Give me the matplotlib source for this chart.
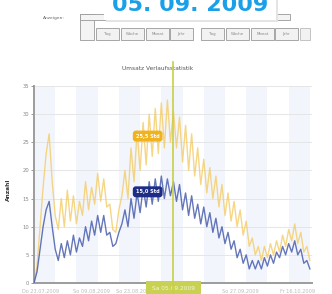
import matplotlib
matplotlib.use('Agg')
import matplotlib.pyplot as plt
from matplotlib.patches import Rectangle
from matplotlib.lines import Line2D
from matplotlib.transforms import blended_transform_factory

# daily values
yellow = [0, 3, 10, 17, 23, 26.5, 18, 12, 9.5, 15, 10, 16.5, 11, 15.5, 10.5,
          14.5, 12, 18, 13, 17, 14, 19.5, 14.5, 18.5, 13.5, 14, 9.5, 9, 13,
          15.5, 20, 15, 24, 18, 27, 20, 28.5, 21, 30, 22.5, 31, 23, 32, 24,
          32.5, 25, 30.5, 24, 29.5, 21.5, 28, 20, 26.5, 19, 24, 17.5, 22, 16,
          20.5, 15, 19, 13.5, 17.5, 12, 16, 11, 14.5, 10, 13, 8.5, 11, 6.5, 8,
          5, 6.5, 4, 6.5, 4.5, 7, 5, 7.5, 5.5, 8.5, 6.5, 9.5, 7.5, 10.5, 7, 9,
          5.5, 6.5, 4]
blue = [0, 2, 6, 10, 13, 14.5, 10, 6, 4, 7, 4.5, 7.5, 5, 8.5, 5.5, 8, 6.5, 10,
        7.5, 11, 8.5, 12, 9, 12, 8.5, 9, 6.5, 7, 9, 10.5, 13, 10, 15, 11.5, 16,
        12.5, 17, 13.5, 18, 14, 18.5, 14.5, 19, 15, 18.5, 15.5, 18, 14.5, 17.5,
        13, 16, 12, 15.5, 11.5, 14, 10.5, 13.5, 10, 12.5, 9, 11.5, 8, 10, 7, 9,
        6, 7.5, 4.5, 6, 3.5, 5, 2.5, 4, 2.5, 4, 2.5, 4.5, 3, 5, 3.5, 5.5, 4.5,
        6.5, 5, 7, 5.5, 7.5, 5, 6, 3.5, 4, 2.5]
tick_pos = [2, 19, 33, 68, 87]
tick_labels = ['Do 23.07.2009', 'So 09.08.2009', 'So 23.08.2009',
               'So 27.09.2009', 'Fr 16.10.2009']
sel_day = 46
sel_label = 'Sa 05.09.2009'
header = '05. 09. 2009'
yellow_label = '25,5 Std'
blue_label = '15,0 Std'
buttons = ['Tag', 'Woche', 'Monat', 'Jahr', 'Tag', 'Woche', 'Monat', 'Jahr']

W, H = 332, 294


def fx(px):
    return px / W


def fy(py):
    return 1 - py / H


fig = plt.figure(figsize=(3.32, 2.94), dpi=100)
fig.patch.set_facecolor('white')

# toolbar
fig.text(fx(54), fy(18), 'Anzeigen:', fontsize=3.2, color='#666', ha='center', va='center')
fig.add_artist(Rectangle((fx(80), fy(40)), fx(14), fy(14) - fy(40), transform=fig.transFigure,
                         fc='#f4f4f4', ec='#999', lw=0.6))
fig.add_artist(Rectangle((fx(80), fy(20)), fx(210), fy(14) - fy(20), transform=fig.transFigure,
                         fc='#f4f4f4', ec='#999', lw=0.6))
bx = [96, 121, 146, 170, 201, 226, 251, 275]
for x0, b in zip(bx, buttons):
    fig.add_artist(Rectangle((fx(x0), fy(40)), fx(23), fy(28) - fy(40), transform=fig.transFigure,
                             fc='#f2f2f2', ec='#999', lw=0.6))
    fig.text(fx(x0 + 11.5), fy(34), b, fontsize=2.8, color='#888', ha='center', va='center')
fig.add_artist(Rectangle((fx(300), fy(40)), fx(10), fy(28) - fy(40), transform=fig.transFigure,
                         fc='#f2f2f2', ec='#bbb', lw=0.6))

# date header (cut at the top edge, like the screenshot)
fig.add_artist(Rectangle((fx(106), fy(22)), fx(172), fy(0) - fy(22), transform=fig.transFigure,
                         fc='#e4e4e4', ec='none'))
fig.add_artist(Rectangle((fx(104), fy(20)), fx(172), fy(0) - fy(20), transform=fig.transFigure,
                         fc='white', ec='none'))
fig.text(fx(190), fy(5), header, fontsize=16, weight='bold', color='#1aa0e8',
         ha='center', va='center')

fig.text(fx(158), fy(68), 'Umsatz Verlaufsstatistik', fontsize=4.2, color='#555',
         ha='center', va='center')
fig.text(fx(8), fy(190), 'Anzahl', fontsize=4.2, weight='bold', color='#333',
         rotation=90, ha='center', va='center')

ax = fig.add_axes([fx(34), fy(283), fx(312) - fx(34), fy(86) - fy(283)])
days = list(range(len(yellow)))
for d in range(0, len(days), 14):
    ax.axvspan(d, d + 7, color='#f2f6fc', lw=0, zorder=0)
ax.plot(days, yellow, color='#f4cc66', lw=1.0, alpha=0.8, zorder=2)
ax.plot(days, blue, color='#4a5ead', lw=1.0, alpha=0.85, zorder=3)

ax.set_xlim(0, 91.7)
ax.set_ylim(0, 35)
ax.set_yticks(range(0, 36, 5))
ax.set_xticks(tick_pos)
ax.set_xticklabels(tick_labels)
ax.tick_params(axis='y', labelsize=3.8, colors='#888', length=2, width=0.6, pad=1.5)
ax.tick_params(axis='x', labelsize=3.6, colors='#bbb', length=0, pad=4)
ax.grid(axis='y', color='#e2e2e2', lw=0.6)
ax.set_axisbelow(True)
for s in ['top', 'right']:
    ax.spines[s].set_visible(False)
for s in ['left', 'bottom']:
    ax.spines[s].set_color('#9c9c9c')
    ax.spines[s].set_linewidth(1.4)
ax.set_facecolor('white')

# selected day marker
tr = blended_transform_factory(ax.transData, fig.transFigure)
fig.add_artist(Line2D([sel_day, sel_day], [fy(294), fy(62)], transform=tr,
                      color='#c9cf45', lw=1.2, zorder=5))
fig.text(sel_day, fy(289), sel_label, transform=tr, fontsize=4.2, color='#f4f6d8',
         ha='center', va='center',
         bbox=dict(boxstyle='square,pad=1.0', fc='#c8d152', ec='none'))

ax.text(37.5, 26.1, yellow_label, fontsize=3.6, weight='bold', color='white',
        ha='center', va='center', zorder=6,
        bbox=dict(boxstyle='round,pad=0.6', fc='#f0b21e', ec='none'))
ax.text(37.5, 16.2, blue_label, fontsize=3.6, weight='bold', color='white',
        ha='center', va='center', zorder=6,
        bbox=dict(boxstyle='round,pad=0.6', fc='#1d2d86', ec='none'))

fig.savefig('out.png', dpi=100)
